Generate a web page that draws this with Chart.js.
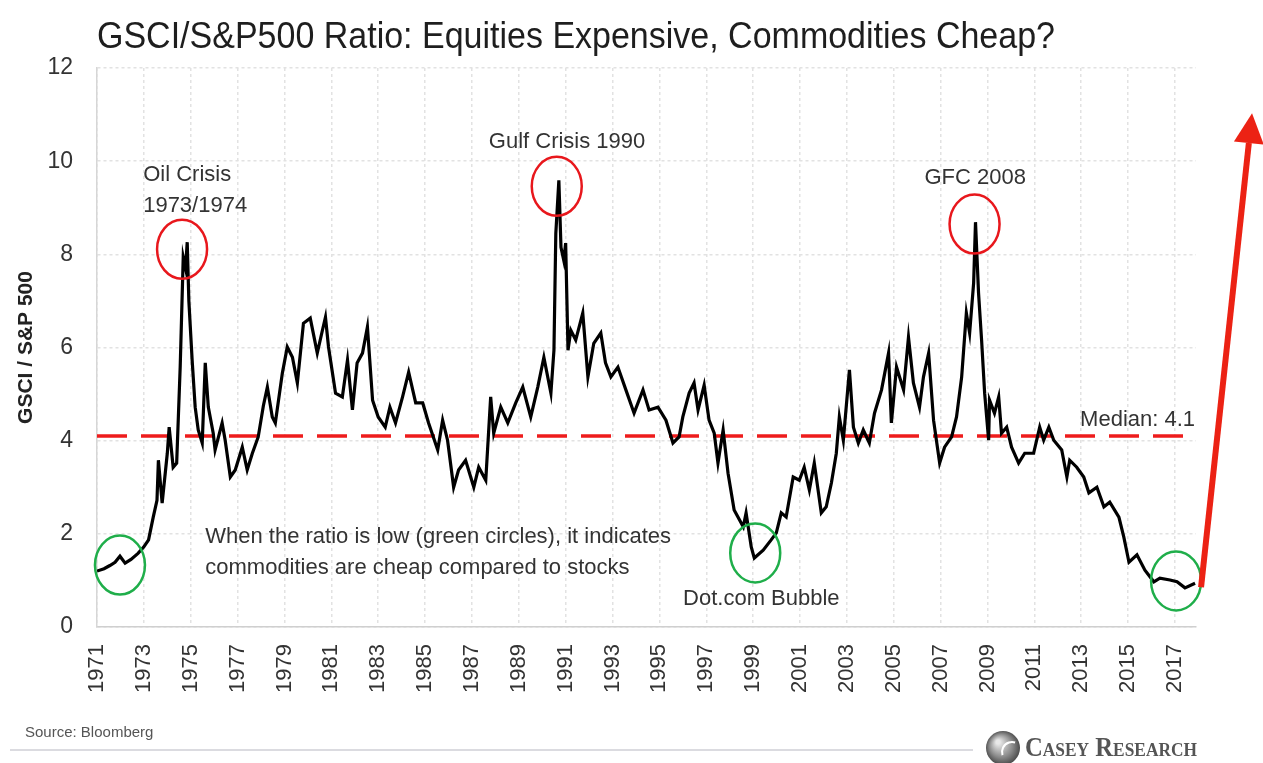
<!DOCTYPE html>
<html><head><meta charset="utf-8">
<script src="https://cdn.jsdelivr.net/npm/chart.js@4.4.1/dist/chart.umd.min.js"></script>
<style>html,body{margin:0;padding:0;background:#fff;}#wrap{width:1263px;height:763px;position:relative;}</style>
</head><body><div id="wrap"><canvas id="c" width="1263" height="763"></canvas></div>
<script>
const years = [1971.00,1971.30,1971.55,1971.77,1971.98,1972.20,1972.45,1972.75,1973.00,1973.20,1973.40,1973.56,1973.62,1973.78,1974.00,1974.08,1974.25,1974.40,1974.55,1974.68,1974.78,1974.85,1974.92,1975.06,1975.19,1975.32,1975.49,1975.62,1975.75,1975.96,1976.04,1976.34,1976.47,1976.69,1976.90,1977.20,1977.41,1977.63,1977.88,1978.10,1978.27,1978.48,1978.61,1978.91,1979.12,1979.34,1979.55,1979.81,1980.10,1980.40,1980.62,1980.75,1980.88,1981.18,1981.47,1981.69,1981.90,1982.10,1982.33,1982.54,1982.76,1983.00,1983.30,1983.50,1983.74,1984.04,1984.30,1984.60,1984.90,1985.15,1985.54,1985.75,1985.96,1986.22,1986.43,1986.73,1987.08,1987.29,1987.59,1987.80,1987.93,1988.23,1988.53,1988.87,1989.17,1989.51,1989.81,1990.07,1990.37,1990.50,1990.58,1990.71,1990.80,1990.92,1991.00,1991.10,1991.22,1991.43,1991.73,1991.95,1992.20,1992.50,1992.70,1992.93,1993.23,1993.57,1993.92,1994.30,1994.56,1994.94,1995.28,1995.58,1995.84,1996.00,1996.27,1996.48,1996.65,1996.91,1997.12,1997.34,1997.50,1997.72,1997.93,1998.19,1998.58,1998.70,1998.92,1999.05,1999.43,1999.77,1999.99,2000.20,2000.41,2000.71,2000.97,2001.18,2001.40,2001.61,2001.91,2002.12,2002.34,2002.55,2002.68,2002.85,2003.11,2003.28,2003.49,2003.70,2003.96,2004.18,2004.48,2004.78,2004.90,2005.12,2005.42,2005.63,2005.84,2006.10,2006.27,2006.49,2006.70,2006.96,2007.17,2007.47,2007.68,2007.90,2008.10,2008.24,2008.41,2008.49,2008.62,2008.75,2008.88,2009.05,2009.09,2009.30,2009.48,2009.60,2009.82,2010.03,2010.33,2010.59,2010.97,2011.23,2011.40,2011.62,2011.83,2012.17,2012.39,2012.51,2012.81,2013.11,2013.33,2013.67,2013.97,2014.22,2014.61,2014.82,2015.04,2015.38,2015.72,2016.10,2016.36,2016.79,2017.09,2017.43,2017.86];
const ratio = [1.20,1.25,1.32,1.39,1.52,1.37,1.45,1.58,1.72,1.87,2.36,2.72,3.58,2.66,3.73,4.29,3.43,3.52,5.58,7.94,7.70,8.26,7.00,5.73,4.72,4.23,3.95,5.67,4.72,4.16,3.80,4.38,4.01,3.22,3.37,3.86,3.37,3.73,4.08,4.75,5.15,4.51,4.38,5.45,6.01,5.79,5.24,6.52,6.63,5.88,6.37,6.65,6.01,5.02,4.94,5.73,4.66,5.67,5.88,6.44,4.87,4.51,4.29,4.72,4.38,4.94,5.47,4.81,4.81,4.38,3.80,4.44,4.01,3.00,3.37,3.58,3.00,3.43,3.15,4.94,4.16,4.72,4.38,4.81,5.15,4.51,5.15,5.79,5.02,5.94,8.45,9.59,8.15,7.87,8.24,5.94,6.37,6.16,6.74,5.37,6.09,6.31,5.67,5.37,5.58,5.09,4.59,5.09,4.66,4.72,4.44,3.95,4.08,4.51,5.02,5.24,4.66,5.19,4.44,4.16,3.52,4.23,3.30,2.51,2.15,2.45,1.72,1.48,1.65,1.87,2.02,2.45,2.36,3.22,3.15,3.43,2.94,3.52,2.45,2.58,3.09,3.73,4.51,4.01,5.52,4.29,3.95,4.23,3.95,4.59,5.09,5.88,4.38,5.58,5.09,6.22,5.24,4.72,5.37,5.88,4.44,3.52,3.86,4.08,4.51,5.37,6.74,6.31,7.38,8.69,7.17,6.16,5.02,4.01,4.87,4.59,4.94,4.16,4.29,3.86,3.52,3.73,3.73,4.29,4.01,4.29,4.01,3.80,3.22,3.58,3.43,3.22,2.88,3.00,2.58,2.68,2.36,1.93,1.39,1.55,1.22,0.97,1.05,1.01,0.97,0.84,0.94];
const yearTicks = [1971,1973,1975,1977,1979,1981,1983,1985,1987,1989,1991,1993,1995,1997,1999,2001,2003,2005,2007,2009,2011,2013,2015,2017];
const valueTicks = [0,2,4,6,8,10,12];
const medianValue = 4.1;
const xMin = 1971, xMax = 2017.9;
const titleText = 'GSCI/S&P500 Ratio: Equities Expensive, Commodities Cheap?';
const yAxisTitle = 'GSCI / S&P 500';
const sourceText = 'Source: Bloomberg';
const brandText = 'Casey Research';
const redCircles = [{x:1974.63,y:8.11},{x:1990.62,y:9.46},{x:2008.45,y:8.65}];
const greenCircles = [{x:1971.98,y:1.33},{x:1999.09,y:1.59},{x:2017.05,y:0.99}];
const notes = [
  {text:'Oil Crisis', x:1972.97, y:9.70, align:'left'},
  {text:'1973/1974', x:1972.97, y:9.03, align:'left'},
  {text:'Gulf Crisis 1990', x:1987.72, y:10.41, align:'left'},
  {text:'GFC 2008', x:2006.31, y:9.64, align:'left'},
  {text:'Median: 4.1', x:2017.86, y:4.44, align:'right'},
  {text:'When the ratio is low (green circles), it indicates', x:1975.62, y:1.93, align:'left'},
  {text:'commodities are cheap compared to stocks', x:1975.62, y:1.27, align:'left'},
  {text:'Dot.com Bubble', x:1996.01, y:0.60, align:'left'}
];

const FONT = '"Liberation Sans", Arial, sans-serif';
const points = years.map((y,i)=>({x:y,y:ratio[i]}));
const medianPts = [{x:xMin,y:medianValue},{x:xMax,y:medianValue}];

const decor = {
  id:'decor',
  afterDatasetsDraw(chart){
    const {ctx, scales:{x,y}} = chart;
    ctx.save();
    const ell = (c,col)=>{ctx.beginPath();ctx.ellipse(x.getPixelForValue(c.x),y.getPixelForValue(c.y),25,29.5,0,0,Math.PI*2);ctx.strokeStyle=col;ctx.lineWidth=2.5;ctx.stroke();};
    redCircles.forEach(c=>ell(c,'#e8171c'));
    greenCircles.forEach(c=>ell(c,'#1fae4a'));
    ctx.fillStyle='#333';
    ctx.font='22px '+FONT;
    ctx.textBaseline='middle';
    notes.forEach(n=>{ctx.textAlign=n.align;ctx.fillText(n.text,x.getPixelForValue(n.x),y.getPixelForValue(n.y));});
    const lx = x.getPixelForValue(years[years.length-1])+6;
    const ly = y.getPixelForValue(ratio[ratio.length-1])+4;
    const tx = lx+51, ty = ly-474;
    const ang = Math.atan2(ty-ly, tx-lx);
    const headL = 30, headW = 15;
    const bx = tx - headL*Math.cos(ang), by = ty - headL*Math.sin(ang);
    ctx.strokeStyle='#ec2214'; ctx.fillStyle='#ec2214'; ctx.lineWidth=6; ctx.lineCap='butt';
    ctx.beginPath(); ctx.moveTo(lx,ly); ctx.lineTo(bx,by); ctx.stroke();
    ctx.beginPath(); ctx.moveTo(tx,ty);
    ctx.lineTo(bx + headW*Math.sin(ang), by - headW*Math.cos(ang));
    ctx.lineTo(bx - headW*Math.sin(ang), by + headW*Math.cos(ang));
    ctx.closePath(); ctx.fill();
    ctx.restore();
  },
  afterDraw(chart){
    const ctx = chart.ctx;
    ctx.save();
    ctx.font='37px '+FONT;
    ctx.fillStyle='#1e1e1e';
    ctx.textBaseline='alphabetic'; ctx.textAlign='left';
    const w = ctx.measureText(titleText).width;
    ctx.translate(97,48); ctx.scale(958/w,1); ctx.fillText(titleText,0,0);
    ctx.setTransform(1,0,0,1,0,0);
    ctx.font='15px '+FONT; ctx.fillStyle='#555'; ctx.textBaseline='middle';
    ctx.fillText(sourceText,25,733);
    ctx.strokeStyle='#cfcfd6'; ctx.lineWidth=1.5;
    ctx.beginPath(); ctx.moveTo(10,750); ctx.lineTo(973,750); ctx.stroke();
    const g = ctx.createRadialGradient(998,742,2,1003,748,18);
    g.addColorStop(0,'#e8e8e8'); g.addColorStop(0.6,'#8a8a8a'); g.addColorStop(1,'#444');
    ctx.fillStyle=g; ctx.beginPath(); ctx.arc(1003,748,17,0,Math.PI*2); ctx.fill();
    ctx.strokeStyle='#fff'; ctx.lineWidth=2;
    ctx.beginPath(); ctx.arc(1012,752,10,Math.PI*0.9,Math.PI*1.6); ctx.stroke();
    ctx.font='small-caps bold 27px "Liberation Serif", serif';
    ctx.fillStyle='#555';
    const bw = ctx.measureText(brandText).width;
    ctx.translate(1025,756); ctx.scale(172/bw,1); ctx.textBaseline='alphabetic'; ctx.fillText(brandText,0,0);
    ctx.restore();
  }
};

new Chart(document.getElementById('c'),{
  type:'line',
  data:{datasets:[
    {data:points,borderColor:'#000',borderWidth:3.2,pointRadius:0,tension:0,order:1},
    {data:medianPts,borderColor:'#ee1c1c',borderWidth:3.5,borderDash:[30,14],pointRadius:0,order:2}
  ]},
  options:{
    responsive:false,animation:false,devicePixelRatio:1,
    layout:{padding:{left:4,right:67,top:68,bottom:10}},
    plugins:{legend:{display:false},tooltip:{enabled:false},title:{display:false}},
    scales:{
      x:{type:'linear',min:xMin,max:xMax,
        afterBuildTicks:s=>{s.ticks=yearTicks.map(v=>({value:v}));},
        afterFit:s=>{s.height=126;},
        grid:{color:'#e2e2e2',lineWidth:1.5,drawTicks:false},
        border:{display:true,color:'#cfcfcf',width:1.5,dash:[3,3]},
        ticks:{autoSkip:false,maxRotation:90,minRotation:90,padding:17,color:'#333',font:{family:FONT,size:22},callback:v=>String(v)}
      },
      y:{min:0,max:12,
        afterBuildTicks:s=>{s.ticks=valueTicks.map(v=>({value:v}));},
        afterFit:s=>{s.width=93;},
        grid:{color:'#e2e2e2',lineWidth:1.5,drawTicks:false},
        border:{display:true,color:'#d6d6d6',width:1.5,dash:[3,3]},
        ticks:{padding:24,color:'#333',font:{family:FONT,size:23},callback:v=>String(v)},
        title:{display:true,text:yAxisTitle,color:'#222',font:{family:FONT,size:21,weight:'bold'},padding:{top:10,bottom:0}}
      }
    }
  },
  plugins:[decor]
});
</script></body></html>
